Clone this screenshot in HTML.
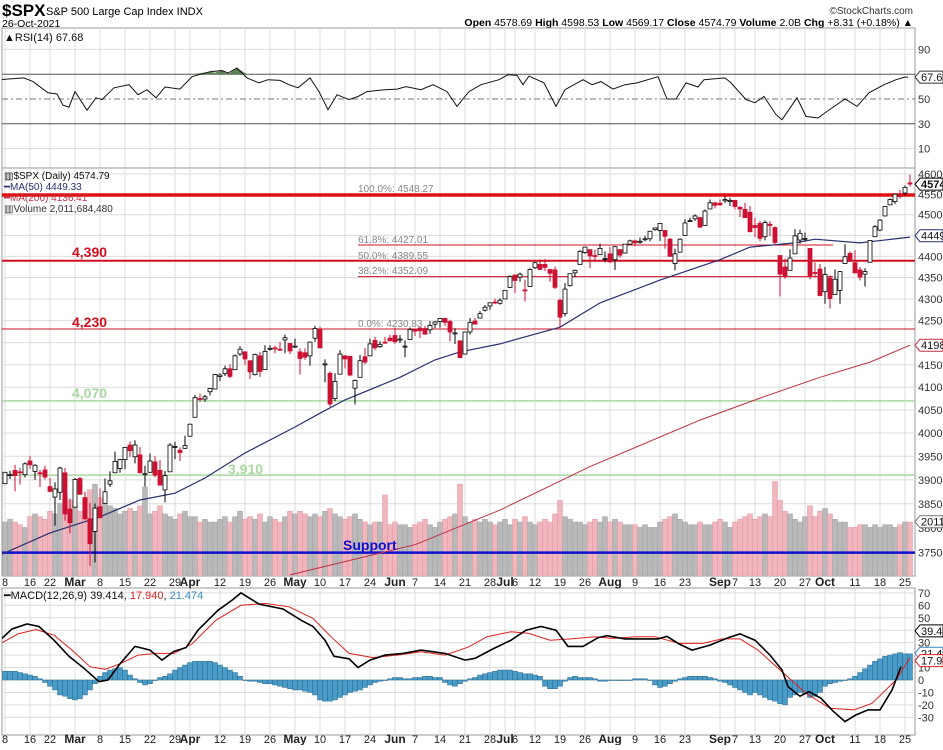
<!DOCTYPE html>
<html><head><meta charset="utf-8">
<style>
html,body{margin:0;padding:0;background:#fff;}
body{width:943px;height:745px;overflow:hidden;font-family:"Liberation Sans",sans-serif;}
svg text{font-family:"Liberation Sans",sans-serif;}
</style></head>
<body>
<svg id="chart" width="943" height="745" viewBox="0 0 943 745" xmlns="http://www.w3.org/2000/svg">
<defs>
<clipPath id="cR"><rect x="2" y="28" width="913" height="140"/></clipPath>
<clipPath id="cP"><rect x="2" y="168" width="913" height="408"/></clipPath>
<clipPath id="cM"><rect x="2" y="588" width="913" height="147"/></clipPath>
</defs>
<g id="header">
<text x="2" y="16" font-size="17" font-weight="bold">$SPX</text>
<text x="46" y="15" font-size="11">S&amp;P 500 Large Cap Index  INDX</text>
<text x="2" y="27" font-size="10.5">26-Oct-2021</text>
<text x="913" y="14" font-size="10" text-anchor="end" fill="#333">©StockCharts.com</text>
<text x="913" y="26" font-size="10.5" text-anchor="end"><tspan font-weight="bold">Open</tspan> 4578.69 <tspan font-weight="bold">High</tspan> 4598.53 <tspan font-weight="bold">Low</tspan> 4569.17 <tspan font-weight="bold">Close</tspan> 4574.79 <tspan font-weight="bold">Volume</tspan> 2.0B <tspan font-weight="bold">Chg</tspan> +8.31 (+0.18%) ▲</text>
</g>
<g id="grid"></g>
<g id="rsi" clip-path="url(#cR)"></g>
<g id="price" clip-path="url(#cP)"></g>
<g id="macd" clip-path="url(#cM)"></g>
<g id="axes"></g>
</svg>
<script>
const dayLabels=["8","16","22","Mar","8","15","22","29","Apr","12","19","26","May","10","17","24","Jun","7","14","21","28","Jul","6","12","19","26","Aug","9","16","23","Sep","7","13","20","27","Oct","11","18","25"];
const dayLabelIdx=[0,5,9,14,19,24,29,34,37,43,48,53,58,63,68,73,78,82,87,92,97,100,102,106,111,116,121,126,131,136,143,146,150,155,160,164,170,175,180];
const openV=[3892,3910,3920,3917,3911,3940,3918,3915,3921,3886,3864,3874,3915,3839,3843,3903,3863,3819,3793,3844,3851,3891,3915,3924,3943,3974,3949,3953,3913,3916,3938,3920,3879,3917,3969,3963,3967,3993,4034,4075,4074,4090,4096,4124,4130,4141,4139,4174,4179,4159,4128,4170,4139,4185,4188,4185,4206,4198,4191,4179,4177,4170,4210,4229,4151,4131,4075,4129,4170,4169,4098,4122,4168,4170,4205,4191,4201,4210,4216,4207,4191,4207,4229,4233,4232,4229,4242,4248,4255,4248,4220,4204,4174,4224,4249,4256,4274,4284,4293,4290,4300,4327,4356,4351,4321,4329,4373,4381,4381,4369,4368,4297,4266,4331,4361,4381,4409,4416,4402,4404,4395,4406,4392,4416,4408,4429,4437,4435,4442,4442,4464,4462,4462,4441,4383,4410,4450,4484,4490,4493,4474,4514,4529,4528,4534,4532,4535,4518,4513,4506,4474,4479,4447,4477,4469,4402,4375,4367,4406,4439,4442,4419,4362,4370,4317,4349,4310,4320,4383,4407,4385,4368,4358,4386,4447,4463,4497,4524,4532,4547,4553,4578];
const highV=[3916,3919,3932,3925,3937,3950,3933,3921,3930,3904,3895,3928,3925,3861,3904,3906,3875,3852,3851,3882,3903,3918,3960,3944,3970,3982,3984,3970,3930,3956,3950,3942,3919,3978,3981,3969,3994,4020,4083,4086,4083,4098,4129,4131,4148,4151,4173,4192,4180,4160,4175,4179,4194,4194,4193,4201,4218,4198,4209,4187,4187,4202,4238,4236,4162,4135,4131,4183,4172,4170,4117,4172,4188,4209,4213,4203,4213,4218,4234,4217,4205,4234,4232,4236,4238,4249,4249,4255,4257,4252,4233,4204,4225,4256,4256,4272,4286,4292,4301,4302,4321,4355,4357,4362,4345,4372,4387,4393,4394,4369,4376,4301,4337,4359,4369,4415,4422,4416,4416,4430,4412,4422,4424,4417,4429,4440,4440,4445,4449,4461,4468,4480,4462,4444,4418,4443,4489,4493,4501,4495,4513,4537,4531,4537,4545,4541,4536,4521,4529,4521,4492,4485,4486,4485,4472,4402,4395,4417,4465,4464,4457,4419,4386,4382,4375,4355,4369,4365,4429,4412,4415,4375,4372,4439,4475,4489,4520,4540,4551,4560,4572,4598];
const lowV=[3892,3902,3876,3890,3905,3923,3900,3885,3901,3874,3805,3858,3815,3789,3843,3868,3817,3723,3730,3821,3851,3885,3915,3915,3923,3949,3935,3914,3886,3916,3905,3889,3853,3917,3944,3940,3966,3993,4034,4068,4068,4082,4096,4114,4125,4120,4139,4170,4150,4118,4126,4123,4139,4182,4176,4181,4176,4174,4188,4128,4161,4148,4202,4188,4111,4057,4069,4129,4142,4124,4062,4122,4151,4170,4183,4188,4197,4203,4197,4199,4167,4207,4215,4210,4219,4220,4233,4234,4238,4203,4197,4165,4174,4218,4241,4255,4271,4275,4288,4287,4300,4326,4314,4340,4294,4329,4370,4368,4365,4340,4323,4233,4260,4329,4351,4381,4406,4372,4387,4404,4386,4384,4368,4397,4407,4428,4424,4430,4436,4436,4461,4437,4418,4399,4367,4410,4450,4482,4485,4468,4474,4514,4515,4522,4529,4521,4513,4494,4493,4457,4446,4436,4438,4448,4427,4306,4347,4367,4406,4430,4436,4346,4350,4306,4289,4278,4310,4289,4383,4386,4360,4343,4329,4386,4447,4460,4497,4524,4526,4539,4547,4569];
const closeV=[3916,3911,3909,3916,3934,3932,3931,3913,3906,3876,3881,3925,3829,3811,3901,3870,3819,3768,3841,3821,3875,3898,3939,3943,3969,3962,3974,3915,3913,3940,3910,3889,3909,3974,3971,3958,3973,4019,4077,4073,4079,4097,4128,4127,4141,4124,4170,4185,4163,4134,4173,4135,4180,4187,4186,4183,4211,4181,4192,4164,4167,4201,4232,4188,4152,4063,4113,4174,4163,4127,4115,4159,4156,4197,4188,4196,4200,4204,4202,4208,4192,4230,4226,4227,4219,4239,4247,4255,4246,4224,4222,4166,4224,4246,4242,4266,4281,4291,4291,4297,4320,4352,4343,4358,4320,4369,4385,4369,4374,4360,4327,4258,4323,4359,4367,4412,4422,4401,4400,4419,4395,4387,4423,4403,4429,4437,4432,4436,4442,4460,4468,4479,4448,4400,4406,4441,4480,4486,4497,4470,4509,4529,4523,4524,4537,4535,4520,4514,4493,4459,4469,4443,4481,4474,4433,4358,4354,4396,4449,4455,4443,4353,4360,4308,4357,4301,4346,4364,4399,4391,4361,4351,4364,4438,4471,4487,4520,4537,4550,4545,4567,4575];
const volumeB=[2.0,2.1,2.0,1.9,1.8,2.2,2.3,2.2,2.1,2.4,2.3,2.7,3.0,2.8,2.6,2.4,2.9,3.2,3.4,2.9,2.7,2.6,2.5,2.3,2.4,2.5,2.4,2.6,3.3,2.3,2.4,2.6,2.3,2.2,2.1,2.3,2.4,2.2,2.2,2.0,2.1,2.0,2.0,2.1,2.2,2.0,2.2,2.4,2.1,2.2,2.1,2.3,2.0,2.2,2.1,2.0,2.2,2.4,2.3,2.4,2.3,2.2,2.3,2.2,2.4,2.5,2.3,2.2,2.1,2.2,2.3,2.1,2.0,1.9,2.0,2.0,3.0,1.9,2.0,1.9,1.9,1.8,1.9,2.0,2.1,1.9,1.8,2.0,2.1,2.2,2.3,3.4,2.2,2.0,2.1,2.0,2.1,2.0,1.9,2.0,2.1,1.9,2.1,2.0,2.2,2.0,1.9,2.0,2.1,2.0,2.3,2.8,2.2,2.1,2.0,2.0,1.9,2.0,2.1,2.0,2.2,2.0,2.1,2.0,1.9,1.9,1.9,1.8,1.9,1.8,1.8,2.0,2.1,2.2,2.3,2.1,2.0,1.9,1.9,2.0,1.9,1.9,2.0,2.1,2.0,1.8,2.0,2.1,2.2,2.3,2.1,2.2,2.3,2.2,3.5,2.8,2.4,2.3,2.1,2.0,2.2,2.6,2.2,2.4,2.5,2.3,2.1,2.0,2.0,1.8,1.8,1.9,1.9,1.8,1.9,1.8,1.9,1.9,1.8,1.9,2.0,2.0];
const ma50Idx=[-1,9,19,27,34,40,48,58,63,68,79,86,91,99,111,119,131,143,149,158,162,171,181];
const ma50Val=[3745,3790,3823,3858,3872,3904,3957,4013,4043,4072,4122,4161,4179,4197,4235,4291,4344,4392,4422,4432,4441,4432,4446];
const ma200Idx=[57,82,99,117,139,151,163,173,181];
const ma200Val=[3705,3766,3837,3928,4028,4076,4122,4156,4194];
const rsiIdx=[-1,3.8,5.6,8.6,10.4,11.6,12.8,14,16.4,18.2,19.4,21.8,24.8,26.6,28.4,30.2,32,35,37.4,41,43.4,44.6,46.4,48.4,50.8,52.6,55,56.8,58.6,61,62.8,64.6,66.4,68.8,70.6,72.4,76,78.4,80.2,83.2,85.6,88.4,90.4,92.8,95.2,98.8,100.6,102.4,103.6,104.8,107.8,110.2,112,115.6,117.4,119.2,121.6,124,126.4,130.6,132.4,134.2,136.2,138.6,139.8,144,145.2,148.2,150,151.8,154.2,155.4,158.4,160.2,162.6,164.4,168,170.4,172.8,175.8,178.2,180,180.6];
const rsiVal=[65.6,67,64,55,54,45,43.5,56,41,51,49.5,59,61.5,53.5,57.5,51,59.7,58,68,72,73,71,75,67,63,65.6,65,61.5,59,67,56,41.4,53.5,49.5,52,56,57.5,58,60,57.5,61.5,56,44,56,61.5,65.6,69.5,69,61.5,68.5,63,44,57.5,65.6,61.5,64,58,61.5,63,68,50,50,63,59.7,65.6,67,63,49.5,47,52,37.4,33.3,51,36,34.7,40,50,44,55,61.5,65.6,67.7,67.68];
const macdIdx=[-1,1.4,4.4,6.8,9.8,12.8,15.8,18.8,20.6,23,26,29,31.4,33.8,36.2,38.6,42.6,45.4,47.2,50.8,55.6,59.2,61.6,64,65.8,68.8,70.6,73,76,79.6,83.2,88,92,94,97.6,101.2,104.2,107.2,110.2,112.6,115.6,118.6,120.4,124,127.6,130.6,132.4,134.8,137.4,141,144.6,147,150,153,155.4,156.6,159,160.8,163.2,165.6,168,170.2,172.6,175,177.4,179.2];
const macdVal=[32,41,45,43,32,19,9.4,-1.3,0,13,27,24,16,23,26,40,56,64,70,61,57,48,43,32,19,17,10,16,20,21.4,24,21.4,16,17.4,25,32,40,43,40,27,27,34,35.6,33,33,33,35,29,24,28,34,37,32,20,8,-5.3,-13,-9.4,-14.7,-25,-33.4,-28,-24,-24,-8,10.7,27,39.4];
const sigIdx=[-1,2.6,6.2,9.8,13.4,17,20,23,26.6,30.2,33.8,37.4,42.2,47.2,52,56.8,61.6,65.2,68.8,73.6,78.4,83.2,88,92.8,96.4,101.2,104.8,109,113.2,118,121.6,126.4,130,134.8,139.6,143.4,147,150.6,155.4,160.2,165,169.8,173.4,178.2,181];
const sigVal=[29,37,40.6,36,24,10.7,8.6,13,20,21.4,21.4,29,48,60,61.5,58.8,49.5,34.8,21.4,18,20,22.7,20,26.7,34.8,38.8,37.4,32,33,34.8,33.4,34.8,34.8,29.4,29.4,33,33,24,6.7,-10.7,-22.7,-24,-18.7,0,17.9];
const histVal=[7,7,7,6,5,4,3,1,-2,-5,-8,-12,-13,-15,-16,-15,-12,-8,-3,3,6,8,9,10,8,4,1,-2,-4,-3,0,2,3,5,8,10,12,14,15,15,15,15,14,12,10,8,6,3,0,-1,-1,-2,-3,-3,-4,-5,-6,-7,-8,-8,-9,-10,-12,-16,-17,-17,-16,-14,-12,-10,-9,-8,-6,-4,-2,-1,0,1,2,2,1,1,2,2,3,3,2,2,-2,-4,-5,-3,-1,1,2,4,5,6,7,8,8,8,7,6,5,5,4,3,-5,-7,-7,-5,-1,2,3,2,2,2,1,-1,-1,0,0,0,0,0,1,1,1,0,-4,-6,-5,-3,-1,1,2,3,3,3,3,2,1,-1,-2,-4,-6,-8,-10,-12,-10,-12,-14,-16,-17,-19,-20,-14,-12,-10,-11,-14,-13,-10,-5,-3,-2,-1,0,1,3,6,9,12,15,17,19,20,21,22,21,21];
const priceTicks=[4600,4550,4500,4450,4400,4350,4300,4250,4200,4150,4100,4050,4000,3950,3900,3850,3800,3750];
const priceTickLabels=["4600","4550","4500","","4400","4350","4300","4250","","4150","4100","4050","4000","3950","3900","3850","3800","3750"];
const rsiTicks=[90,70,50,30,10];
const rsiTickLabels=["90","","50","30","10"];
const macdTicks=[70,60,50,40,30,20,10,0,-10,-20,-30];
const macdTickLabels=["70","60","50","","30","","10","0","-10","-20","-30"];

const NS="http://www.w3.org/2000/svg";
const X0=5,DX=5,R=915;
function xOf(i){return X0+DX*i;}
function yP(p){return 174+1853*Math.log(4600/p);}
function yR(v){return 99-(v-50)*1.24;}
function yM(v){return 680-v*1.245;}
function yV(v){return 576-v*27;}
function mk(tag,parent,attrs){const e=document.createElementNS(NS,tag);for(const k in attrs)e.setAttribute(k,attrs[k]);parent.appendChild(e);return e;}
const G=document.getElementById('grid'),RS=document.getElementById('rsi'),PR=document.getElementById('price'),MC=document.getElementById('macd'),AX=document.getElementById('axes');

[[28,168],[168,576],[588,735]].forEach((p,k)=>{
  const r=mk('rect',G,{x:2,y:p[0],width:R-2,height:p[1]-p[0],fill:'#fff',stroke:'#999','stroke-width':1});
  
  
  dayLabelIdx.forEach(i=>{const l=mk('line',G,{x1:xOf(i),x2:xOf(i),y1:p[0],y2:p[1],stroke:'#dcdcdc','stroke-width':1});
    
    });
});
priceTicks.forEach((t,k)=>{const y=yP(t);
  const l=mk('line',G,{x1:2,x2:R,y1:y,y2:y,stroke:'#dcdcdc'});
  
  
  if(priceTickLabels[k]){const tx=mk('text',AX,{x:918,y:y+4,'font-size':11,fill:'#333'});tx.textContent=priceTickLabels[k];
  
  }
});
rsiTicks.forEach((t,k)=>{const y=yR(t);
  const st=(t==30||t==70)?'#555':(t==50?'#777':'#dcdcdc');
  const l=mk('line',G,{x1:2,x2:R,y1:y,y2:y,stroke:st,'stroke-dasharray':t==50?'6,3,2,3':'none'});
  
  
  if(rsiTickLabels[k]){const tx=mk('text',AX,{x:918,y:y+4,'font-size':11,fill:'#333'});tx.textContent=rsiTickLabels[k];
  
  }
});
macdTicks.forEach((t,k)=>{const y=yM(t);
  const l=mk('line',G,{x1:2,x2:R,y1:y,y2:y,stroke:'#dcdcdc'});
  
  
  if(macdTickLabels[k]){const tx=mk('text',AX,{x:918,y:y+4,'font-size':11,fill:'#333'});tx.textContent=macdTickLabels[k];
  
  }
});
[586,743].forEach(yy=>{dayLabels.forEach((s,k)=>{const bold=isNaN(+s);
  const tx=mk('text',AX,{x:xOf(dayLabelIdx[k]),y:yy,'font-size':bold?12:11,'font-weight':bold?'bold':'normal','text-anchor':'middle',fill:'#222'});
  tx.textContent=s;
  
  });});

function pathOf(idx,val,yf){return idx.map((i,k)=>(k?'L':'M')+xOf(i).toFixed(1)+','+yf(val[k]).toFixed(1)).join('');}
let fill='';rsiIdx.forEach((i,k)=>{if(rsiVal[k]>70&&k>0&&k<rsiIdx.length-1){fill+=`M${xOf(rsiIdx[k-1])},${yR(70)}L${xOf(i)},${yR(rsiVal[k])}L${xOf(rsiIdx[k+1])},${yR(70)}Z`;}});
const rf=mk('path',RS,{d:fill,fill:'#5f7f55'});


const rl=mk('path',RS,{d:pathOf(rsiIdx,rsiVal,yR),fill:'none',stroke:'#111','stroke-width':1});



volumeB.forEach((v,i)=>{const up=closeV[i]>=openV[i];
  const b=mk('rect',PR,{x:xOf(i)-2.5,y:yV(v),width:5,height:576-yV(v),fill:up?'#b9b9b9':'#f0b5bd',stroke:up?'#a5a5a5':'#e49aa5','stroke-width':0.5});
  
  });

function hline(p,x1,x2,col,w,name){const l=mk('line',PR,{x1:x1,x2:x2,y1:yP(p),y2:yP(p),stroke:col,'stroke-width':w});
  }
hline(3750,2,R,'#1010d0',2.5,'support-line');
hline(3910,2,R,'#a8d8a0',1.5,'level-3910');
hline(4070,2,R,'#a8d8a0',1.5,'level-4070');
hline(4230.83,2,R,'#d01020',1,'level-4230');
hline(4389.55,2,R,'#d01020',2,'level-4390');
hline(4427.01,358,833,'#d01020',1,'fib-61-8');
hline(4352.09,358,833,'#d01020',1,'fib-38-2');
hline(4548.27,2,R,'#e01010',3.5,'fib-100-line');

const m2=mk('path',PR,{d:pathOf(ma200Idx,ma200Val,yP),fill:'none',stroke:'#c03040','stroke-width':1});


const m5=mk('path',PR,{d:pathOf(ma50Idx,ma50Val,yP),fill:'none',stroke:'#283070','stroke-width':1.2});



closeV.forEach((c,i)=>{const o=openV[i],x=xOf(i),up=c>=o,col=up?'#000':'#cc1133';
  const g=mk('g',PR,{});
  
  
  mk('line',g,{x1:x,x2:x,y1:yP(highV[i]),y2:yP(lowV[i]),stroke:col,'stroke-width':1});
  const t=Math.min(yP(o),yP(c)),h=Math.max(1,Math.abs(yP(o)-yP(c)));
  mk('rect',g,{x:x-2,y:t,width:4,height:h,fill:up?'#fff':'#cc1133',stroke:col,'stroke-width':0.8});
});

function txt(par,x,y,s,attrs,name){const t=mk('text',par,Object.assign({x:x,y:y},attrs));t.textContent=s;
  return t;}
txt(AX,72,257,'4,390',{'font-size':14,'font-weight':'bold',fill:'#d01020'},'label-4390');
txt(AX,72,327,'4,230',{'font-size':14,'font-weight':'bold',fill:'#d01020'},'label-4230');
txt(AX,72,398,'4,070',{'font-size':14,'font-weight':'bold',fill:'#a8d8a0'},'label-4070');
txt(AX,228,474,'3,910',{'font-size':14,'font-weight':'bold',fill:'#a8d8a0'},'label-3910');
txt(AX,343,550,'Support',{'font-size':14,'font-weight':'bold',fill:'#1010d0'},'support-label');
txt(AX,358,192,'100.0%: 4548.27',{'font-size':10,fill:'#888'},'fib-100-label');
txt(AX,358,243,'61.8%: 4427.01',{'font-size':10,fill:'#888'},'fib-61-8-label');
txt(AX,358,259,'50.0%: 4389.55',{'font-size':10,fill:'#888'},'fib-50-label');
txt(AX,358,274,'38.2%: 4352.09',{'font-size':10,fill:'#888'},'fib-38-2-label');
txt(AX,358,327,'0.0%: 4230.83',{'font-size':10,fill:'#888'},'fib-0-label');
txt(AX,4,179,'▥$SPX (Daily) 4574.79',{'font-size':10,fill:'#111'},'price-legend');
txt(AX,4,190,'━MA(50) 4449.33',{'font-size':10,fill:'#283070'},'ma50-legend');
txt(AX,4,201,'━MA(200) 4136.41',{'font-size':10,fill:'#c03040'},'ma200-legend');
txt(AX,4,212,'▥Volume 2,011,684,480',{'font-size':10,fill:'#333'},'volume-legend');
txt(AX,4,41,'▲RSI(14) 67.68',{'font-size':11,fill:'#111'},'rsi-legend');

histVal.forEach((v,i)=>{const y=yM(Math.max(v,0)),h=Math.abs(yM(v)-yM(0));
  const b=mk('rect',MC,{x:xOf(i)-2.5,y:y,width:5,height:Math.max(h,0.5),fill:'#4a9cc8',stroke:'#2b6a8e','stroke-width':0.5});
  
  });
const sl=mk('path',MC,{d:pathOf(sigIdx,sigVal,yM),fill:'none',stroke:'#e02020','stroke-width':1});


const ml=mk('path',MC,{d:pathOf(macdIdx,macdVal,yM),fill:'none',stroke:'#000','stroke-width':1.6});


const ml2=txt(AX,4,599,'',{'font-size':11,fill:'#111'},'macd-legend');
ml2.innerHTML='━MACD(12,26,9) 39.414, <tspan fill="#e02020">17.940</tspan>, <tspan fill="#3a8cc0">21.474</tspan>';

function tag(y,s,col,bold,name){const g=mk('g',AX,{});
  
  mk('path',g,{d:`M915,${y}L920,${y-6}L943,${y-6}L943,${y+6}L920,${y+6}Z`,fill:'#fff',stroke:col,'stroke-width':1});
  const t=mk('text',g,{x:921,y:y+4,'font-size':11,'font-weight':bold?'bold':'normal',fill:'#111'});t.textContent=s;}
tag(yR(67.68),'67.68','#333',false,'rsi-value-tag');
tag(yP(4574.79),'4574.79','#000',true,'close-value-tag');
tag(yP(4449.33),'4449','#283070',false,'ma50-value-tag');
tag(yP(4194),'4198','#c03040',false,'ma200-value-tag');
tag(yV(2.011),'2011','#777',false,'volume-value-tag');
tag(yM(39.414),'39.41','#000',false,'macd-value-tag');
tag(yM(21.474),'21.47','#3a8cc0',false,'histogram-value-tag');
tag(yM(17.94)+3,'17.94','#e02020',false,'signal-value-tag');
</script>
</body></html>
